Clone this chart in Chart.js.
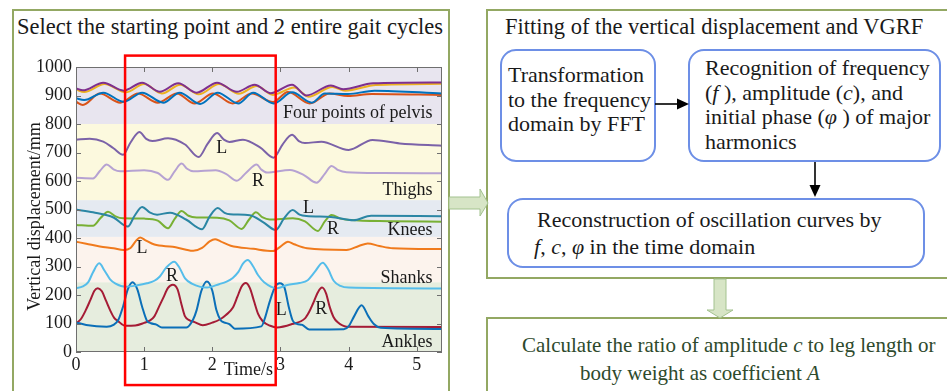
<!DOCTYPE html>
<html>
<head>
<meta charset="utf-8">
<script src="https://cdn.jsdelivr.net/npm/chart.js@4.4.1/dist/chart.umd.min.js"></script>
<style>
  body { margin: 0; width: 947px; height: 391px; overflow: hidden; background: #fff;
         font-family: "Liberation Serif", "Times New Roman", serif; color: #1a1a1a; position: relative; }
  .abs { position: absolute; box-sizing: border-box; }
  .panel { border: 2px solid #93a863; }
  .rbox { border: 2px solid #6d8fe6; border-radius: 16px; background: #fff; font-size: 22px; }
  .title { font-size: 22.5px; line-height: 26px; white-space: nowrap; }
  .line { white-space: nowrap; }
  i { font-style: italic; }
  #chartWrap { left: 0; top: 0; width: 449px; height: 391px; }
</style>
</head>
<body>
<div class="abs panel" style="left:12px;top:9px;width:438px;height:420px;"></div>
<div class="abs panel" style="left:486px;top:9px;width:520px;height:270px;"></div>
<div class="abs panel" style="left:486px;top:317px;width:520px;height:120px;"></div>

<div class="abs title" style="left:17px;top:14px;">Select the starting point and 2 entire gait cycles</div>
<div class="abs title" style="left:505px;top:14px;">Fitting of the vertical displacement and VGRF</div>

<div class="abs rbox" style="left:500px;top:49px;width:156px;height:113px;padding:12px 0 0 6px;line-height:24.5px;">
  <div class="line">Transformation</div>
  <div class="line">to the frequency</div>
  <div class="line">domain by FFT</div>
</div>
<div class="abs rbox" style="left:688px;top:49px;width:253px;height:113px;padding:5px 0 0 15px;line-height:24.5px;">
  <div class="line">Recognition of frequency</div>
  <div class="line">(<i>f</i> ), amplitude (<i>c</i>), and</div>
  <div class="line">initial phase (<i>φ</i> ) of major</div>
  <div class="line">harmonics</div>
</div>
<div class="abs rbox" style="left:507px;top:198px;width:418px;height:70px;padding:6px 0 0 28px;line-height:27px;">
  <div class="line">Reconstruction of oscillation curves by</div>
  <div class="line" style="margin-left:-3px;"><i>f</i>, <i>c</i>, <i>φ</i> in the time domain</div>
</div>

<div class="abs line" style="left:522px;top:332px;font-size:21px;line-height:27px;color:#2e4a2c;">Calculate the ratio of amplitude <i>c</i> to leg length or</div>
<div class="abs line" style="left:580px;top:360px;font-size:21px;line-height:27px;color:#2e4a2c;">body weight as coefficient <i>A</i></div>

<svg class="abs" style="left:0;top:0;" width="947" height="391">
  <line x1="655" y1="104" x2="678" y2="104" stroke="#000" stroke-width="1.6"/>
  <polygon points="677,98.5 689,104 677,109.5" fill="#000"/>
  <line x1="815" y1="162" x2="815" y2="186" stroke="#000" stroke-width="1.6"/>
  <polygon points="809.5,185 815,197 820.5,185" fill="#000"/>
  <polygon points="449,197 480,197 480,189 488,203 480,216 480,209 449,209" fill="#d7e5c6" stroke="#a3c28f" stroke-width="1"/>
  <polygon points="714,279 726,279 726,310 733,310 720,318 707,310 714,310" fill="#d7e5c6" stroke="#a3c28f" stroke-width="1"/>
</svg>

<div class="abs" id="chartWrap"><canvas id="gait" width="449" height="391" style="width:449px;height:391px;"></canvas></div>

<script>
// vertical displacement (mm) vs time (s)
const pelvisPurple = [[0,925],[0.1,918],[0.4,945],[0.7,917],[0.97,945],[1.23,913],[1.5,943],[1.77,910],[2.07,945],[2.36,913],[2.62,938],[2.86,908],[3.17,938],[3.38,900],[3.74,935],[3.92,922],[4.36,943],[5.37,946]];
const pelvisYellow = [[0,921],[0.12,912],[0.42,940],[0.73,911],[1.0,940],[1.26,907],[1.53,938],[1.8,904],[2.1,940],[2.39,906],[2.65,933],[2.89,902],[3.2,928],[3.41,896],[3.76,930],[3.95,917],[4.4,937],[5.37,941]];
const pelvisBlue = [[0,890],[0.12,884],[0.4,910],[0.7,878],[0.97,910],[1.28,875],[1.52,910],[1.82,870],[2.08,910],[2.38,872],[2.6,910],[2.9,872],[3.17,911],[3.46,875],[3.65,907],[3.99,905],[4.38,917],[5.37,907]];
const pelvisOrange = [[0,878],[0.1,867],[0.35,907],[0.65,875],[0.91,907],[1.2,875],[1.48,907],[1.74,872],[2.01,907],[2.3,872],[2.58,907],[2.89,877],[3.11,912],[3.43,872],[3.72,907],[3.99,898],[4.34,905],[5.37,902]];
const thighL = [[0,745],[0.2,748],[0.4,738],[0.55,715],[0.69,692],[0.8,735],[0.93,772],[1.03,748],[1.12,740],[1.35,750],[1.6,728],[1.8,684],[1.93,730],[2.07,768],[2.17,745],[2.25,737],[2.45,745],[2.7,718],[2.9,682],[3.03,728],[3.17,762],[3.27,740],[3.36,733],[3.6,738],[4.0,709],[4.35,744],[4.75,732],[5.37,724]];
const thighR = [[0,611],[0.25,609],[0.35,635],[0.45,658],[0.55,641],[0.65,634],[1.0,638],[1.2,628],[1.35,604],[1.45,635],[1.55,661],[1.63,643],[1.72,634],[2.05,638],[2.2,625],[2.36,601],[2.5,630],[2.65,658],[2.72,640],[2.8,630],[3.14,639],[3.35,620],[3.53,594],[3.65,625],[3.75,653],[3.85,638],[3.97,631],[4.5,628],[5.37,627]];
const kneeL = [[0,500],[0.25,490],[0.55,472],[0.76,440],[0.86,478],[0.97,509],[1.08,490],[1.19,482],[1.38,489],[1.62,464],[1.85,431],[1.96,475],[2.08,505],[2.18,488],[2.26,483],[2.55,480],[2.75,455],[2.93,428],[3.05,468],[3.18,498],[3.28,482],[3.38,477],[3.74,474],[4.07,462],[4.33,478],[5.37,476]];
const kneeR = [[0,446],[0.25,443],[0.36,470],[0.47,492],[0.58,476],[0.69,469],[1.0,468],[1.2,461],[1.35,434],[1.45,468],[1.55,495],[1.65,478],[1.77,472],[2.07,471],[2.25,462],[2.43,432],[2.54,465],[2.64,490],[2.74,472],[2.84,465],[3.18,469],[3.36,458],[3.55,425],[3.65,458],[3.75,481],[3.88,468],[4.02,463],[4.6,459],[5.37,457]];
const shankL = [[0,387],[0.15,380],[0.35,370],[0.55,364],[0.7,358],[0.8,365],[0.88,390],[0.94,402],[1.02,392],[1.15,377],[1.42,369],[1.6,360],[1.72,355],[1.85,365],[1.96,388],[2.04,396],[2.12,388],[2.27,373],[2.6,362],[2.89,354],[3.0,370],[3.11,387],[3.2,378],[3.39,364],[3.97,358],[4.15,372],[4.28,381],[4.45,372],[4.65,364],[5.37,361]];
const shankR = [[0,224],[0.1,230],[0.18,245],[0.25,280],[0.34,311],[0.42,285],[0.5,255],[0.58,240],[0.73,229],[0.9,234],[1.04,241],[1.15,250],[1.23,265],[1.32,295],[1.44,317],[1.52,295],[1.6,258],[1.7,240],[1.92,226],[2.1,238],[2.21,247],[2.3,260],[2.38,280],[2.45,310],[2.52,323],[2.6,300],[2.67,270],[2.76,245],[2.95,224],[3.1,235],[3.28,242],[3.4,252],[3.5,280],[3.62,313],[3.7,290],[3.78,250],[3.88,232],[4.0,226],[5.37,223]];
const ankleL = [[0,104],[0.15,95],[0.45,89],[0.55,95],[0.62,112],[0.69,159],[0.76,220],[0.83,245],[0.9,220],[0.97,159],[1.04,110],[1.1,101],[1.18,96],[1.26,86],[1.62,86],[1.72,115],[1.77,147],[1.84,215],[1.92,247],[2.0,215],[2.06,147],[2.12,112],[2.17,104],[2.25,98],[2.33,82],[2.72,90],[2.78,125],[2.84,175],[2.92,228],[2.99,241],[3.06,225],[3.12,160],[3.18,110],[3.24,99],[3.32,95],[3.42,79],[3.93,80],[4.0,90],[4.08,125],[4.19,164],[4.29,125],[4.37,98],[4.47,85],[5.37,81]];
const ankleR = [[0,100],[0.07,115],[0.14,145],[0.21,182],[0.27,215],[0.32,224],[0.38,213],[0.44,180],[0.5,147],[0.56,120],[0.62,108],[0.72,92],[0.87,93],[1.0,102],[1.08,110],[1.15,125],[1.22,160],[1.28,190],[1.35,225],[1.42,236],[1.49,220],[1.55,165],[1.6,125],[1.66,112],[1.74,105],[1.86,94],[2.0,103],[2.11,114],[2.2,130],[2.3,155],[2.37,195],[2.43,230],[2.49,242],[2.55,225],[2.61,180],[2.67,135],[2.74,108],[2.85,92],[2.95,86],[3.17,98],[3.36,118],[3.42,140],[3.48,171],[3.55,210],[3.61,226],[3.67,205],[3.72,160],[3.78,122],[3.84,104],[3.97,89],[5.37,88]];

// band edges (mm) and the selected window (s)
const bandEdges = [0, 245, 404, 533, 800, 1000];
const selWindow = [0.72, 2.93];

// annotation texts [time, value, text]
const sideLabels = [[2.14,716,'L'],[2.67,600,'R'],[3.41,505,'L'],[3.77,432,'R'],[0.97,365,'L'],[1.41,267,'R'],[3.01,147,'L'],[3.6,151,'R']];
const bandNames = [[839,'Four points of pelvis'],[568,'Thighs'],[428,'Knees'],[260,'Shanks'],[35,'Ankles']];

const serif = '"Liberation Serif", "Times New Roman", serif';
const bandColors = ['#e6edde', '#fcf3ed', '#e5eaf1', '#fcf9de', '#e8e5ef'];

const toPts = arr => arr.map(p => ({x: p[0], y: p[1]}));

const lines = [
  [pelvisPurple, '#7e2f8e'], [pelvisYellow, '#edb120'], [pelvisBlue, '#0072bd'], [pelvisOrange, '#d95319'],
  [thighL, '#7b62a8'], [thighR, '#b6a2d2'],
  [kneeL, '#2b86a4'], [kneeR, '#78b034'],
  [shankL, '#f07a1c'], [shankR, '#55bdea'],
  [ankleL, '#0b6fb8'], [ankleR, '#a51c36']
];

const decor = {
  id: 'decor',
  beforeDatasetsDraw(chart) {
    const {ctx, chartArea: a, scales: {y}} = chart;
    ctx.save();
    for (let i = 0; i < bandEdges.length - 1; i++) {
      const top = y.getPixelForValue(bandEdges[i + 1]);
      const bot = y.getPixelForValue(bandEdges[i]);
      ctx.fillStyle = bandColors[i];
      ctx.fillRect(a.left, top, a.right - a.left, bot - top);
    }
    ctx.restore();
  },
  afterDatasetsDraw(chart) {
    const {ctx, chartArea: a, scales: {x, y}} = chart;
    ctx.save();
    ctx.strokeStyle = '#6f6f6f';
    ctx.lineWidth = 1;
    ctx.strokeRect(a.left + 0.5, a.top + 0.5, a.right - a.left - 1, a.bottom - a.top - 1);
    ctx.beginPath();
    x.ticks.forEach(t => {
      const px = Math.round(x.getPixelForValue(t.value)) + 0.5;
      ctx.moveTo(px, a.bottom); ctx.lineTo(px, a.bottom - 5);
      ctx.moveTo(px, a.top); ctx.lineTo(px, a.top + 5);
    });
    y.ticks.forEach(t => {
      const py = Math.round(y.getPixelForValue(t.value)) + 0.5;
      ctx.moveTo(a.left, py); ctx.lineTo(a.left + 5, py);
      ctx.moveTo(a.right, py); ctx.lineTo(a.right - 5, py);
    });
    ctx.stroke();

    ctx.fillStyle = '#1a1a1a';
    ctx.font = '18px ' + serif;
    ctx.textBaseline = 'middle';
    ctx.textAlign = 'center';
    sideLabels.forEach(([t, v, s]) => ctx.fillText(s, x.getPixelForValue(t), y.getPixelForValue(v)));
    // axis captions: x one sits between the 2 and 3 s ticks, y one a bit below centre
    ctx.fillText('Time/s', x.getPixelForValue(2.53), a.bottom + 18);
    ctx.save();
    ctx.translate(35, (a.top + a.bottom) / 2 + 7);
    ctx.rotate(-Math.PI / 2);
    ctx.fillText('Vertical displacement/mm', 0, 0);
    ctx.restore();
    ctx.textAlign = 'right';
    bandNames.forEach(([v, s]) => ctx.fillText(s, x.getPixelForValue(5.23), y.getPixelForValue(v)));
    ctx.restore();
  },
  afterDraw(chart) {
    const {ctx, scales: {x, y}} = chart;
    const x1 = x.getPixelForValue(selWindow[0]), x2 = x.getPixelForValue(selWindow[1]);
    const y1 = y.getPixelForValue(1040), y2 = y.getPixelForValue(-116);
    ctx.save();
    ctx.strokeStyle = '#ff0000';
    ctx.lineWidth = 2.5;
    ctx.strokeRect(x1, y1, x2 - x1, y2 - y1);
    ctx.restore();
  }
};

new Chart(document.getElementById('gait'), {
  type: 'line',
  data: {
    datasets: lines.map(([d, c]) => ({
      data: toPts(d),
      borderColor: c,
      borderWidth: 2,
      pointRadius: 0,
      fill: false,
      cubicInterpolationMode: 'monotone'
    }))
  },
  options: {
    responsive: false,
    animation: false,
    devicePixelRatio: 1,
    layout: { padding: { top: 67, right: 7, left: 0, bottom: 0 } },
    plugins: { legend: { display: false }, tooltip: { enabled: false } },
    scales: {
      x: {
        type: 'linear', min: 0, max: 5.37,
        grid: { display: false, drawTicks: false },
        border: { display: false },
        ticks: { stepSize: 1, includeBounds: false, padding: 2, color: '#1a1a1a', font: { family: serif, size: 18 } },
        afterFit: s => { s.height = 39; }
      },
      y: {
        min: 0, max: 1000,
        grid: { display: false, drawTicks: false },
        border: { display: false },
        ticks: { stepSize: 100, padding: 4, color: '#1a1a1a', font: { family: serif, size: 18 }, callback: v => String(v) },
        afterFit: s => { s.width = 76; }
      }
    }
  },
  plugins: [decor]
});
</script>
</body>
</html>
